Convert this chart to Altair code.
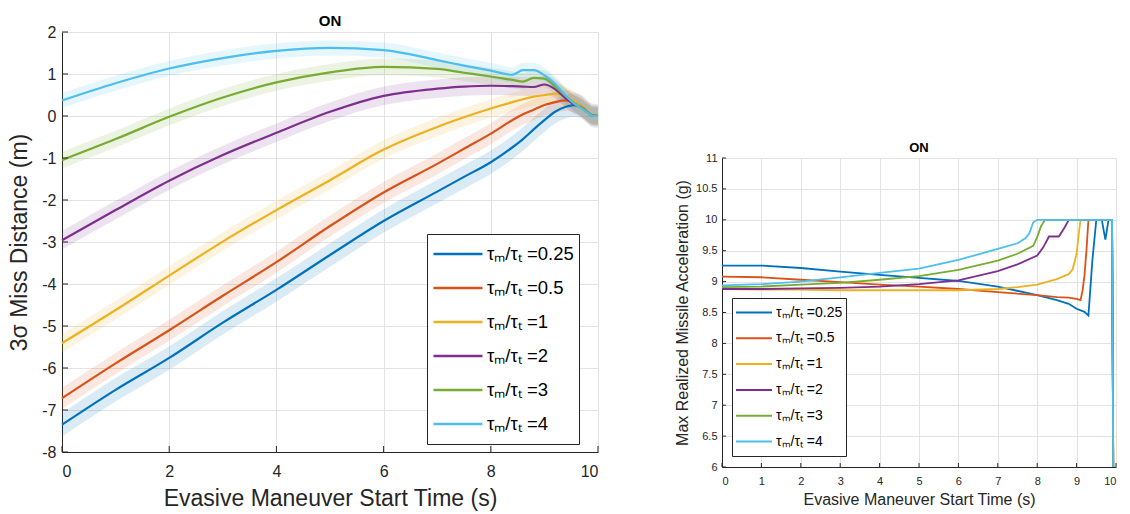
import altair as alt
import pandas as pd

FONT = "Liberation Sans"
INK = "#262626"
GRID = "#e3e3e3"

RATIOS = ["0.25", "0.5", "1", "2", "3", "4"]
SERIES = ["τₘ/τₜ =" + r for r in RATIOS]
COLORS = ["#0072BD", "#D95319", "#EDB120", "#7E2F8E", "#77AC30", "#4DBEEE"]

# ---- left panel: 3-sigma miss distance (m) on a shared start-time grid (s)
miss_t = [0, 1, 2, 3, 4, 5, 6, 7, 7.5, 8, 8.4, 8.6, 8.8, 9.0, 9.2, 9.4, 9.55, 9.7, 9.8, 9.9, 10]
miss_025 = [-7.35, -6.52, -5.76, -4.92, -4.14, -3.31, -2.50, -1.80, -1.45, -1.10, -0.75, -0.55,
            -0.32, -0.10, 0.10, 0.22, 0.26, 0.21, 0.10, 0.01, 0.0]
miss_05 = [-6.72, -5.89, -5.10, -4.28, -3.48, -2.62, -1.82, -1.14, -0.78, -0.42, -0.10, 0.04,
           0.15, 0.26, 0.33, 0.37, 0.33, 0.22, 0.10, 0.01, 0.0]
miss_1 = [-5.41, -4.62, -3.80, -2.99, -2.24, -1.53, -0.80, -0.26, -0.03, 0.18, 0.33, 0.40,
          0.46, 0.50, 0.53, 0.47, 0.36, 0.21, 0.10, 0.01, 0.0]
miss_2 = [-2.96, -2.24, -1.54, -0.93, -0.40, 0.10, 0.48, 0.65, 0.70, 0.72, 0.71, 0.70,
          0.69, 0.75, 0.64, 0.42, 0.28, 0.19, 0.09, 0.01, 0.0]
miss_3 = [-1.05, -0.55, -0.02, 0.44, 0.80, 1.04, 1.17, 1.12, 1.03, 0.94, 0.86, 0.82,
          0.91, 0.89, 0.70, 0.47, 0.31, 0.19, 0.09, 0.01, 0.0]
miss_4 = [0.37, 0.78, 1.13, 1.38, 1.55, 1.62, 1.57, 1.33, 1.20, 1.08, 0.98, 1.09,
          1.09, 0.97, 0.76, 0.48, 0.30, 0.17, 0.08, 0.0, 0.0]
miss_values = [miss_025, miss_05, miss_1, miss_2, miss_3, miss_4]
# half-width of the shaded spread around each curve (m)
miss_spread = [0.28, 0.25, 0.22, 0.22, 0.20, 0.18]

# ---- right panel: max realized missile acceleration (g)
acc_t_025 = [0, 1, 2, 3, 4, 5, 6, 7, 8, 8.5, 8.8, 9.0, 9.2, 9.3, 9.4, 9.5, 9.64, 9.73, 9.81, 9.9, 9.93]
acc_025 = [9.26, 9.26, 9.22, 9.16, 9.11, 9.06, 9.01, 8.92, 8.78, 8.70, 8.64, 8.56, 8.51, 8.45,
           9.34, 10.0, 10.0, 9.68, 10.0, 10.0, 6.0]
acc_t_05 = [0, 1, 2, 3, 4, 5, 6, 7, 8, 8.5, 8.8, 9.0, 9.1, 9.15, 9.2, 9.25, 9.3, 9.9, 9.93]
acc_05 = [9.08, 9.07, 9.03, 8.99, 8.95, 8.92, 8.88, 8.83, 8.78, 8.75, 8.74, 8.72, 8.70, 8.85,
          9.10, 9.50, 10.0, 10.0, 6.0]
acc_t_1 = [0, 1, 2, 3, 4, 5, 6, 7, 7.5, 8, 8.5, 8.8, 8.9, 9.0, 9.05, 9.1, 9.9, 9.93]
acc_1 = [8.88, 8.87, 8.87, 8.86, 8.86, 8.86, 8.86, 8.88, 8.91, 8.95, 9.04, 9.12, 9.20, 9.45,
         9.75, 10.0, 10.0, 6.0]
acc_t_2 = [0, 1, 2, 3, 4, 5, 6, 7, 7.5, 8.0, 8.15, 8.3, 8.55, 8.7, 8.8, 9.9, 9.93]
acc_2 = [8.88, 8.88, 8.89, 8.90, 8.92, 8.96, 9.02, 9.17, 9.28, 9.42, 9.55, 9.73, 9.73, 9.88,
         10.0, 10.0, 6.0]
acc_t_3 = [0, 1, 2, 3, 4, 5, 6, 7, 7.5, 7.9, 8.0, 8.1, 8.2, 9.9, 9.93]
acc_3 = [8.91, 8.92, 8.95, 8.98, 9.03, 9.09, 9.19, 9.34, 9.45, 9.58, 9.72, 9.90, 10.0, 10.0, 6.0]
acc_t_4 = [0, 1, 2, 3, 4, 5, 6, 7, 7.5, 7.7, 7.8, 7.9, 8.0, 9.9, 9.93]
acc_4 = [8.94, 8.96, 9.00, 9.07, 9.14, 9.21, 9.35, 9.53, 9.62, 9.70, 9.78, 9.96, 10.0, 10.0, 6.0]
acc_times = [acc_t_025, acc_t_05, acc_t_1, acc_t_2, acc_t_3, acc_t_4]
acc_values = [acc_025, acc_05, acc_1, acc_2, acc_3, acc_4]

# tick positions of both panels
left_xticks = [0, 2, 4, 6, 8, 10]
left_yticks = list(range(-8, 3))
right_xticks = list(range(0, 11))
right_yticks = [6 + 0.5 * k for k in range(11)]

miss_rows = []
for name, col, ys, s in zip(SERIES, COLORS, miss_values, miss_spread):
    for t, y in zip(miss_t, ys):
        miss_rows.append({"series": name, "shade": col, "t": t, "y": y, "s": s})
miss_df = pd.DataFrame(miss_rows)

acc_rows = []
for name, ts, ys in zip(SERIES, acc_times, acc_values):
    for t, y in zip(ts, ys):
        acc_rows.append({"series": name, "t": t, "y": y})
acc_df = pd.DataFrame(acc_rows)

axis_style = dict(labelFont=FONT, titleFont=FONT, labelColor=INK, titleColor=INK,
                  domainColor=INK, domainWidth=1, gridColor=GRID, gridWidth=1,
                  tickSize=0, titleFontWeight="normal", labelExpr="'' + datum.value")

stroke_scale = alt.Scale(domain=SERIES, range=COLORS)


def inward_ticks(x_enc, y_enc, xvals, yvals, plot_h, length):
    """Short tick marks drawn inside the plot along the left and bottom axes."""
    yt = alt.Chart(pd.DataFrame({"y": yvals})).mark_rule(color=INK, strokeWidth=1).encode(
        y=y_enc, x=alt.value(0), x2=alt.value(length))
    xt = alt.Chart(pd.DataFrame({"t": xvals})).mark_rule(color=INK, strokeWidth=1).encode(
        x=x_enc, y=alt.value(plot_h), y2=alt.value(plot_h - length))
    return [yt, xt]


# ---------------- left panel ----------------
LW, LH = 536, 420
l_yscale = alt.Scale(domain=[-8, 2], nice=False)
lx = alt.X("t:Q", scale=alt.Scale(domain=[0, 10], nice=False),
           axis=alt.Axis(values=left_xticks, title="Evasive Maneuver Start Time (s)",
                         labelFontSize=16, titleFontSize=23, labelPadding=11, titlePadding=8,
                         **axis_style))
ly_axis = alt.Axis(values=left_yticks, title="3σ Miss Distance (m)",
                   labelFontSize=16, titleFontSize=23, labelPadding=6, titlePadding=10,
                   **axis_style)
ly = alt.Y("y:Q", scale=l_yscale, axis=ly_axis)

band = alt.Chart(miss_df).transform_calculate(
    lo="datum.y - datum.s", hi="datum.y + datum.s"
).mark_area(opacity=0.14, interpolate="monotone").encode(
    x=lx,
    y=alt.Y("lo:Q", scale=l_yscale, axis=ly_axis),
    y2="hi:Q",
    fill=alt.Fill("shade:N", scale=None),
    detail="series:N",
)

left_lines = alt.Chart(miss_df).mark_line(strokeWidth=2.2, interpolate="monotone").encode(
    x=lx,
    y=ly,
    color=alt.Color("series:N", scale=stroke_scale, sort=SERIES,
                    legend=alt.Legend(orient="none", legendX=365, legendY=202, title=None,
                                      symbolType="stroke", symbolSize=2400,
                                      symbolStrokeWidth=2.5, clipHeight=30,
                                      rowPadding=4, padding=5, labelOffset=3,
                                      labelFont=FONT, labelFontSize=18.5, labelColor="black",
                                      labelLimit=300, fillColor="white", strokeColor=INK)),
)

left = alt.layer(
    band, left_lines, *inward_ticks(lx, ly, left_xticks, left_yticks, LH, 6)
).properties(
    width=LW, height=LH,
    title=alt.TitleParams("ON", font=FONT, fontSize=15, fontWeight="bold", color="black",
                          offset=-5, anchor="middle"),
)

# ---------------- right panel ----------------
RW, RH = 394, 309
rx = alt.X("t:Q", scale=alt.Scale(domain=[0, 10], nice=False),
           axis=alt.Axis(values=right_xticks, title="Evasive Maneuver Start Time (s)",
                         labelFontSize=11, titleFontSize=16, labelPadding=8, titlePadding=5,
                         **axis_style))
ry = alt.Y("y:Q", scale=alt.Scale(domain=[6, 11], nice=False, clamp=True),
           axis=alt.Axis(values=right_yticks,
                         title="Max Realized Missile Acceleration (g)",
                         labelFontSize=11, titleFontSize=16, labelPadding=5, titlePadding=5,
                         **axis_style))

right_lines = alt.Chart(acc_df).mark_line(strokeWidth=1.8, clip=True).encode(
    x=rx, y=ry,
    color=alt.Color("series:N", scale=stroke_scale, sort=SERIES,
                    legend=alt.Legend(orient="none", legendX=10, legendY=140, title=None,
                                      symbolType="stroke", symbolSize=1296,
                                      symbolStrokeWidth=2, clipHeight=23,
                                      rowPadding=2.8, padding=3, labelOffset=3,
                                      labelFont=FONT, labelFontSize=14, labelColor="black",
                                      labelLimit=300, fillColor="white", strokeColor=INK)),
)

right = alt.layer(
    right_lines, *inward_ticks(rx, ry, right_xticks, right_yticks, RH, 4)
).properties(
    width=RW, height=RH,
    title=alt.TitleParams("ON", font=FONT, fontSize=13, fontWeight="bold", color="black",
                          offset=-3, anchor="middle"),
)

# empty block above the right panel so that it sits lower on the page
spacer = alt.Chart(pd.DataFrame({"v": [0]})).mark_point(opacity=0).encode(
    x=alt.value(0), y=alt.value(0)
).properties(width=10, height=110)

right_column = alt.vconcat(spacer, right, spacing=0).resolve_scale(color="independent")

chart = alt.hconcat(left, right_column, spacing=71).resolve_scale(
    color="independent"
).configure_view(stroke=None).properties(
    padding={"left": 8, "top": 14, "right": 5, "bottom": 5}, background="white"
)

chart.save("out.html", embed_options={"renderer": "svg", "actions": False})
